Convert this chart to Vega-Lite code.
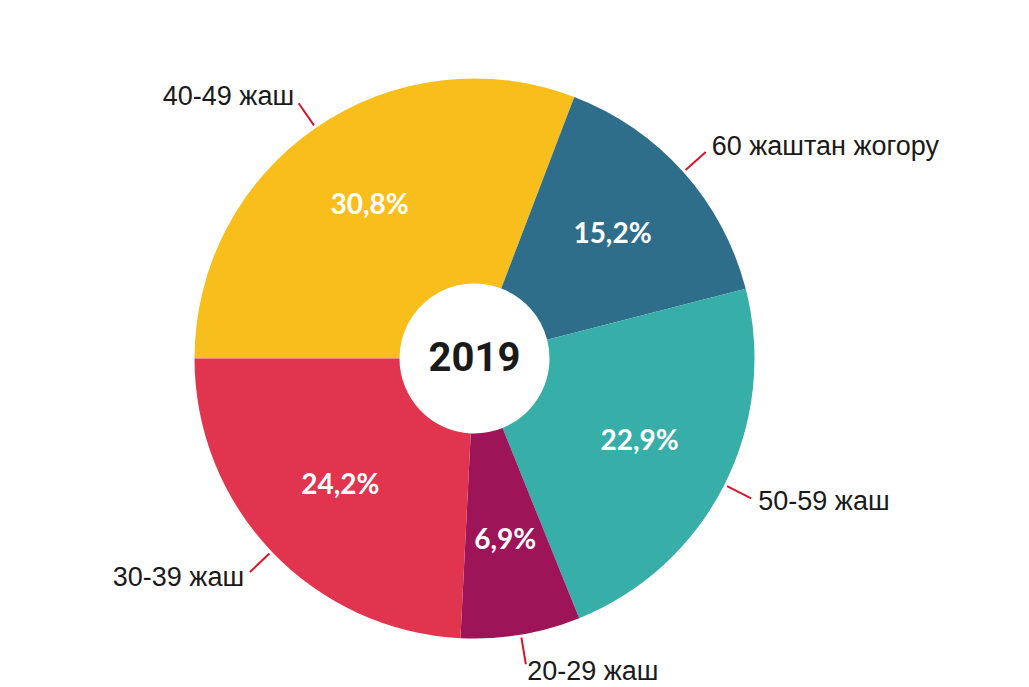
{
  "$schema": "https://vega.github.io/schema/vega-lite/v6.json",
  "width": 1029,
  "height": 687,
  "autosize": {"type": "fit", "contains": "padding"},
  "padding": {"left": 0, "right": 80, "top": 30, "bottom": 0},
  "background": "white",
  "config": {"view": {"stroke": null}},
  "datasets": {
    "ages": [
      {"category": "40-49 жаш", "share": 30.8, "label": "30,8%", "rank": 1},
      {"category": "60 жаштан жогору", "share": 15.2, "label": "15,2%", "rank": 2},
      {"category": "50-59 жаш", "share": 22.9, "label": "22,9%", "rank": 3},
      {"category": "20-29 жаш", "share": 6.9, "label": "6,9%", "rank": 4},
      {"category": "30-39 жаш", "share": 24.2, "label": "24,2%", "rank": 5}
    ],
    "center": [{"year": "2019"}]
  },
  "data": {"name": "ages"},
  "layer": [
    {
      "mark": {"type": "arc", "innerRadius": 75, "outerRadius": 280},
      "encoding": {
        "theta": {"field": "share", "type": "quantitative", "stack": true, "scale": {"range": [-1.5708, 4.7124]}},
        "order": {"field": "rank", "type": "quantitative"},
        "color": {
          "field": "category",
          "type": "nominal",
          "scale": {
            "domain": ["40-49 жаш", "60 жаштан жогору", "50-59 жаш", "20-29 жаш", "30-39 жаш"],
            "range": ["#F8BF1C", "#2E6E8B", "#37AEA8", "#9D1458", "#E1344F"]
          },
          "legend": null
        }
      }
    },
    {
      "mark": {"type": "arc", "innerRadius": 283, "outerRadius": 310, "padAngle": 3.14159, "stroke": "#D8162B", "strokeWidth": 2, "fill": "transparent"},
      "encoding": {
        "theta": {"field": "share", "type": "quantitative", "stack": true},
        "order": {"field": "rank", "type": "quantitative"},
        "detail": {"field": "category", "type": "nominal"}
      }
    },
    {
      "mark": {"type": "text", "radius": 185, "font": "Lato", "fontWeight": "bold", "fontSize": 28, "fill": "white"},
      "encoding": {
        "theta": {"field": "share", "type": "quantitative", "stack": true},
        "order": {"field": "rank", "type": "quantitative"},
        "detail": {"field": "category", "type": "nominal"},
        "text": {"field": "label", "type": "nominal"}
      }
    },
    {
      "mark": {"type": "text", "radius": 318, "align": "left", "baseline": "middle", "font": "Liberation Sans", "fontSize": 27, "fill": "#1a1a1a"},
      "encoding": {
        "theta": {"field": "share", "type": "quantitative", "stack": true},
        "order": {"field": "rank", "type": "quantitative"},
        "detail": {"field": "category", "type": "nominal"},
        "text": {
          "condition": {"test": "indexof(['60 жаштан жогору', '50-59 жаш', '20-29 жаш'], datum.category) >= 0", "field": "category", "type": "nominal"},
          "value": ""
        }
      }
    },
    {
      "mark": {"type": "text", "radius": 318, "align": "right", "baseline": "middle", "font": "Liberation Sans", "fontSize": 27, "fill": "#1a1a1a"},
      "encoding": {
        "theta": {"field": "share", "type": "quantitative", "stack": true},
        "order": {"field": "rank", "type": "quantitative"},
        "detail": {"field": "category", "type": "nominal"},
        "text": {
          "condition": {"test": "indexof(['40-49 жаш', '30-39 жаш'], datum.category) >= 0", "field": "category", "type": "nominal"},
          "value": ""
        }
      }
    },
    {
      "data": {"name": "center"},
      "mark": {"type": "text", "font": "Roboto", "fontWeight": "bold", "fontSize": 40, "fill": "#1a1a1a"},
      "encoding": {
        "text": {"field": "year", "type": "nominal"}
      }
    }
  ]
}
